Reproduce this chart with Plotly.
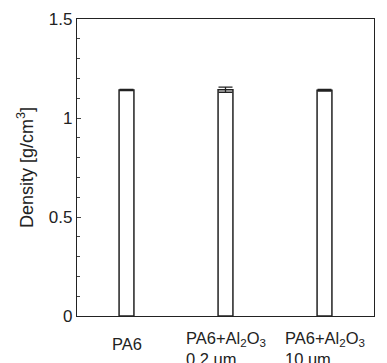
import plotly.graph_objects as go

categories = ["PA6", "PA6+Al2O3 0.2 um", "PA6+Al2O3 10 um"]
tick_labels = ["PA6", "PA6+Al<sub>2</sub>O<sub>3</sub><br>0.2 um", "PA6+Al<sub>2</sub>O<sub>3</sub><br>10 um"]
density = [1.141, 1.143, 1.140]
density_err = [0.003, 0.013, 0.004]

FONT = "Liberation Sans, Arial, sans-serif"

fig = go.Figure()
fig.add_trace(go.Bar(
    x=[0, 1, 2], y=density, width=0.15,
    marker=dict(color="white", line=dict(color="#222", width=1.5)),
    error_y=dict(type="data", array=density_err, color="#222", thickness=1.3, width=7),
))

for i, lab in enumerate(tick_labels):
    fig.add_annotation(
        x=i, y=0, xref="x", yref="paper", text=lab, showarrow=False,
        xanchor="center", yanchor="top", align="left",
        yshift=-11 if i > 0 else -17,
        font=dict(family=FONT, size=16.5, color="#222"),
    )

fig.update_layout(
    width=387, height=363,
    margin=dict(l=77, r=13, t=19, b=47, autoexpand=False),
    paper_bgcolor="white", plot_bgcolor="white",
    showlegend=False,
    font=dict(family=FONT, color="#222"),
)
fig.update_xaxes(
    range=[-0.5, 2.5], showticklabels=False, ticks="", showgrid=False, zeroline=False,
    showline=True, linecolor="#222", linewidth=1.3, mirror=True, automargin=False,
)
fig.update_yaxes(
    range=[0, 1.5], tickvals=[0, 0.5, 1, 1.5], ticktext=["0", "0.5", "1", "1.5"],
    ticks="inside", ticklen=4, tickwidth=1, tickcolor="#444",
    minor=dict(dtick=0.1, ticks="inside", ticklen=3, tickwidth=1, tickcolor="#444", showgrid=False),
    showgrid=False, zeroline=False, automargin=False,
    showline=True, linecolor="#222", linewidth=1.3, mirror=True,
    tickfont=dict(family=FONT, size=17, color="#222"),
    title=dict(text="Density [g/cm<sup>3</sup>]", font=dict(family=FONT, size=18, color="#222"), standoff=10),
)

fig.write_html("out.html", config={"displayModeBar": False},
               post_script="document.body.style.margin='0';")
